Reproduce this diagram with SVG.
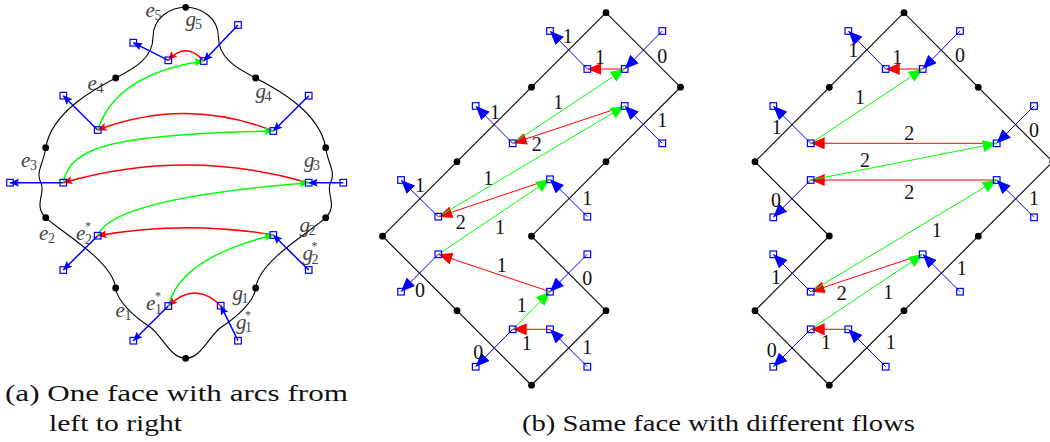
<svg xmlns="http://www.w3.org/2000/svg" xmlns:xlink="http://www.w3.org/1999/xlink" width="1050" height="442" viewBox="0 0 1050 442">
<style>
.face{fill:none;stroke:#000;stroke-width:1.1}
.dot{fill:#000}
.sq{fill:none;stroke:#00f;stroke-width:1.2}
.bl{fill:none;stroke:#00f;stroke-width:1.5}
.rd{fill:none;stroke:#f00;stroke-width:1.5}
.gr{fill:none;stroke:#0f0;stroke-width:1.5}
.bl2{fill:none;stroke:#00f;stroke-width:1}
.rd2{fill:none;stroke:#f00;stroke-width:1}
.gr2{fill:none;stroke:#0f0;stroke-width:1}
.lbl{font-family:"Liberation Serif","Times New Roman",serif;font-size:21px;fill:#444}
.it{font-style:italic}
.sub{font-size:14px}
.sup{font-size:12px}
.num{font-family:"Liberation Serif","Times New Roman",serif;font-size:20px;fill:#111;text-anchor:middle}
.cap{font-family:"Liberation Serif","Times New Roman",serif;font-size:24px;fill:#111}
</style>
<defs>
<marker id="mb" markerUnits="userSpaceOnUse" markerWidth="10" markerHeight="8" refX="9" refY="4" orient="auto"><path d="M0,0 L9.5,4 L0,8 L1.8,4 z" fill="#00f"/></marker>
<marker id="mr" markerUnits="userSpaceOnUse" markerWidth="10" markerHeight="8" refX="9" refY="4" orient="auto"><path d="M0,0 L9.5,4 L0,8 L1.8,4 z" fill="#f00"/></marker>
<marker id="mg" markerUnits="userSpaceOnUse" markerWidth="10" markerHeight="8" refX="9" refY="4" orient="auto"><path d="M0,0 L9.5,4 L0,8 L1.8,4 z" fill="#0f0"/></marker>
<marker id="Mb" markerUnits="userSpaceOnUse" markerWidth="15" markerHeight="12" refX="14" refY="6" orient="auto"><path d="M0,0 L14,6 L0,12 z" fill="#00f"/></marker>
<marker id="Mr" markerUnits="userSpaceOnUse" markerWidth="15" markerHeight="12" refX="14" refY="6" orient="auto"><path d="M0,0 L14,6 L0,12 z" fill="#f00"/></marker>
<marker id="Mg" markerUnits="userSpaceOnUse" markerWidth="15" markerHeight="12" refX="14" refY="6" orient="auto"><path d="M0,0 L14,6 L0,12 z" fill="#0f0"/></marker>
<rect id="sq" x="-3.3" y="-3.3" width="6.6" height="6.6" class="sq"/>
<circle id="dt" r="3.4" class="dot"/>
<path id="half" class="face" d="M185.7,7.3 C170,7.3 153,18 153,37 C153,58 135,68 115.7,78 C100.3,86 52,110 45.7,147.7 C44,162.7 35,172 41,183 C46,193 33,205 45.7,217.7 C57.7,229.7 112,260 115.7,288 C117.2,302 136,318 150,327 C162,335 170,358.3 185.7,358.3"/>
</defs>

<!-- Panel (a) face boundary -->
<g id="faceA">
<use xlink:href="#half"/>
<use xlink:href="#half" transform="matrix(-1 0 0 1 371.4 0)"/>
</g>
<!-- Panel (b) face boundary -->
<g id="faceB"><path class="face" d="M606,12.7 L531.5,87.2 L457,161.7 L382.5,236.2 L457,310.7 L531.5,385.2 L606,310.7 L531.5,236.2 L606,161.7 L680.5,87.2 Z"/></g>
<!-- Panel (c) face boundary -->
<g id="faceC"><path class="face" d="M904,12.7 L829.3,87.3 L755,161.7 L829.3,236 L755,310.7 L829.3,385.2 L904,310.7 L978.3,236.2 L1052.8,161.7 L978.3,87.3 Z"/></g>

<g id="connectors">
<!-- panel a blue -->
<line class="bl" x1="168.3" y1="60.3" x2="133.3" y2="42.7" marker-end="url(#mb)"/>
<line class="bl" x1="238" y1="25" x2="203.7" y2="61" marker-end="url(#mb)"/>
<line class="bl" x1="97.7" y1="130" x2="63.3" y2="95.7" marker-end="url(#mb)"/>
<line class="bl" x1="308.7" y1="95.7" x2="273.3" y2="131" marker-end="url(#mb)"/>
<line class="bl" x1="63.3" y1="182.7" x2="10" y2="182.7" marker-end="url(#mb)"/>
<line class="bl" x1="343.3" y1="182.7" x2="308.7" y2="182.7" marker-end="url(#mb)"/>
<line class="bl" x1="97.7" y1="235.7" x2="63.3" y2="270" marker-end="url(#mb)"/>
<line class="bl" x1="308.7" y1="270" x2="273.3" y2="235" marker-end="url(#mb)"/>
<line class="bl" x1="168.3" y1="306" x2="133.3" y2="340.7" marker-end="url(#mb)"/>
<line class="bl" x1="238" y1="340.7" x2="220.7" y2="305.7" marker-end="url(#mb)"/>
<!-- panel a red -->
<path class="rd" d="M203.7,61 Q186,41 168.3,60.3" marker-end="url(#mr)"/>
<path class="rd" d="M273.3,131 Q185.5,96.5 97.7,130" marker-end="url(#mr)"/>
<path class="rd" d="M308.7,182.7 Q186,147.3 63.3,182.7" marker-end="url(#mr)"/>
<path class="rd" d="M273.3,235 Q185.5,220 97.7,235.7" marker-end="url(#mr)"/>
<path class="rd" d="M220.7,305.7 Q195,280 168.3,306" marker-end="url(#mr)"/>
<!-- panel a green -->
<path class="gr" d="M97.7,130 Q116,74 203.7,61" marker-end="url(#mg)"/>
<path class="gr" d="M63.3,182.7 C70,145 120,134 273.3,131" marker-end="url(#mg)"/>
<path class="gr" d="M97.7,235.7 C105,215 155,195 308.7,182.7" marker-end="url(#mg)"/>
<path class="gr" d="M168.3,306 Q180,258 273.3,235" marker-end="url(#mg)"/>

<!-- panel b blue -->
<line class="bl2" x1="587.3" y1="69" x2="550" y2="31" marker-end="url(#Mb)"/>
<line class="bl2" x1="662.3" y1="31" x2="624.7" y2="69" marker-end="url(#Mb)"/>
<line class="bl2" x1="512.7" y1="143.3" x2="475.7" y2="106" marker-end="url(#Mb)"/>
<line class="bl2" x1="662.3" y1="143.3" x2="624.7" y2="106" marker-end="url(#Mb)"/>
<line class="bl2" x1="438.3" y1="216.7" x2="401" y2="180" marker-end="url(#Mb)"/>
<line class="bl2" x1="587.3" y1="216.7" x2="550" y2="179.3" marker-end="url(#Mb)"/>
<line class="bl2" x1="438.3" y1="254.3" x2="401" y2="291.7" marker-end="url(#Mb)"/>
<line class="bl2" x1="587.3" y1="254.3" x2="550" y2="291.7" marker-end="url(#Mb)"/>
<line class="bl2" x1="587.3" y1="366.7" x2="550" y2="329.3" marker-end="url(#Mb)"/>
<line class="bl2" x1="512.7" y1="329.3" x2="475.7" y2="366.7" marker-end="url(#Mb)"/>
<!-- panel b red -->
<line class="rd2" x1="624.7" y1="69" x2="587.3" y2="69" marker-end="url(#Mr)"/>
<line class="rd2" x1="624.7" y1="106" x2="512.7" y2="143.3" marker-end="url(#Mr)"/>
<line class="rd2" x1="550" y1="179.3" x2="438.3" y2="216.7" marker-end="url(#Mr)"/>
<line class="rd2" x1="550" y1="291.7" x2="438.3" y2="254.3" marker-end="url(#Mr)"/>
<line class="rd2" x1="550" y1="329.3" x2="512.7" y2="329.3" marker-end="url(#Mr)"/>
<!-- panel b green -->
<line class="gr2" x1="512.7" y1="143.3" x2="624.7" y2="69" marker-end="url(#Mg)"/>
<line class="gr2" x1="438.3" y1="216.7" x2="624.7" y2="106" marker-end="url(#Mg)"/>
<line class="gr2" x1="438.3" y1="254.3" x2="550" y2="179.3" marker-end="url(#Mg)"/>
<line class="gr2" x1="512.7" y1="329.3" x2="550" y2="291.7" marker-end="url(#Mg)"/>

<!-- panel c blue -->
<line class="bl2" x1="885.7" y1="69" x2="848.3" y2="31" marker-end="url(#Mb)"/>
<line class="bl2" x1="960" y1="31" x2="922.7" y2="69" marker-end="url(#Mb)"/>
<line class="bl2" x1="810.7" y1="143.3" x2="773.3" y2="106" marker-end="url(#Mb)"/>
<line class="bl2" x1="1034" y1="106" x2="996.7" y2="143.3" marker-end="url(#Mb)"/>
<line class="bl2" x1="810.7" y1="180" x2="773.3" y2="217.3" marker-end="url(#Mb)"/>
<line class="bl2" x1="1034" y1="217.3" x2="996.7" y2="180" marker-end="url(#Mb)"/>
<line class="bl2" x1="810.7" y1="291.7" x2="773.3" y2="254.3" marker-end="url(#Mb)"/>
<line class="bl2" x1="960" y1="291.7" x2="922.7" y2="254.3" marker-end="url(#Mb)"/>
<line class="bl2" x1="885.7" y1="366.7" x2="848.3" y2="329.3" marker-end="url(#Mb)"/>
<line class="bl2" x1="810.7" y1="329.3" x2="773.3" y2="366.7" marker-end="url(#Mb)"/>
<!-- panel c red -->
<line class="rd2" x1="922.7" y1="69" x2="885.7" y2="69" marker-end="url(#Mr)"/>
<line class="rd2" x1="996.7" y1="143.3" x2="810.7" y2="143.3" marker-end="url(#Mr)"/>
<line class="rd2" x1="996.7" y1="180" x2="810.7" y2="180" marker-end="url(#Mr)"/>
<line class="rd2" x1="922.7" y1="254.3" x2="810.7" y2="291.7" marker-end="url(#Mr)"/>
<line class="rd2" x1="848.3" y1="329.3" x2="810.7" y2="329.3" marker-end="url(#Mr)"/>
<!-- panel c green -->
<line class="gr2" x1="810.7" y1="143.3" x2="922.7" y2="69" marker-end="url(#Mg)"/>
<line class="gr2" x1="810.7" y1="180" x2="996.7" y2="143.3" marker-end="url(#Mg)"/>
<line class="gr2" x1="810.7" y1="291.7" x2="996.7" y2="180" marker-end="url(#Mg)"/>
<line class="gr2" x1="810.7" y1="329.3" x2="922.7" y2="254.3" marker-end="url(#Mg)"/>
</g>

<!-- vertices -->
<g id="vertA">
<use xlink:href="#dt" x="185.7" y="7.3"/><use xlink:href="#dt" x="115.7" y="78"/><use xlink:href="#dt" x="255.7" y="78"/>
<use xlink:href="#dt" x="45.7" y="147.7"/><use xlink:href="#dt" x="325.7" y="147.7"/><use xlink:href="#dt" x="45.7" y="217.7"/>
<use xlink:href="#dt" x="325.7" y="217.7"/><use xlink:href="#dt" x="115.7" y="288"/><use xlink:href="#dt" x="255.7" y="288"/>
<use xlink:href="#dt" x="185.7" y="358.3"/>
</g>
<g id="vertB">
<use xlink:href="#dt" x="606" y="12.7"/><use xlink:href="#dt" x="531.5" y="87.2"/><use xlink:href="#dt" x="680.5" y="87.2"/>
<use xlink:href="#dt" x="457" y="161.7"/><use xlink:href="#dt" x="606" y="161.7"/><use xlink:href="#dt" x="382.5" y="236.2"/>
<use xlink:href="#dt" x="531.5" y="236.2"/><use xlink:href="#dt" x="457" y="310.7"/><use xlink:href="#dt" x="606" y="310.7"/>
<use xlink:href="#dt" x="531.5" y="385.2"/>
</g>
<g id="vertC">
<use xlink:href="#dt" x="904" y="12.7"/><use xlink:href="#dt" x="829.3" y="87.3"/><use xlink:href="#dt" x="978.3" y="87.3"/>
<use xlink:href="#dt" x="755" y="161.7"/><use xlink:href="#dt" x="1052.8" y="161.7"/><use xlink:href="#dt" x="829.3" y="236"/>
<use xlink:href="#dt" x="978.3" y="236.2"/><use xlink:href="#dt" x="755" y="310.7"/><use xlink:href="#dt" x="904" y="310.7"/>
<use xlink:href="#dt" x="829.3" y="385.2"/>
</g>

<!-- ports -->
<g id="portsA">
<use xlink:href="#sq" x="133.3" y="42.7"/><use xlink:href="#sq" x="168.3" y="60.3"/><use xlink:href="#sq" x="203.7" y="61"/><use xlink:href="#sq" x="238" y="25"/>
<use xlink:href="#sq" x="63.3" y="95.7"/><use xlink:href="#sq" x="97.7" y="130"/><use xlink:href="#sq" x="273.3" y="131"/><use xlink:href="#sq" x="308.7" y="95.7"/>
<use xlink:href="#sq" x="10" y="182.7"/><use xlink:href="#sq" x="63.3" y="182.7"/><use xlink:href="#sq" x="308.7" y="182.7"/><use xlink:href="#sq" x="343.3" y="182.7"/>
<use xlink:href="#sq" x="97.7" y="235.7"/><use xlink:href="#sq" x="63.3" y="270"/><use xlink:href="#sq" x="273.3" y="235"/><use xlink:href="#sq" x="308.7" y="270"/>
<use xlink:href="#sq" x="168.3" y="306"/><use xlink:href="#sq" x="133.3" y="340.7"/><use xlink:href="#sq" x="220.7" y="305.7"/><use xlink:href="#sq" x="238" y="340.7"/>
</g>
<g id="portsB">
<use xlink:href="#sq" x="550" y="31"/><use xlink:href="#sq" x="587.3" y="69"/><use xlink:href="#sq" x="624.7" y="69"/><use xlink:href="#sq" x="662.3" y="31"/>
<use xlink:href="#sq" x="475.7" y="106"/><use xlink:href="#sq" x="512.7" y="143.3"/><use xlink:href="#sq" x="624.7" y="106"/><use xlink:href="#sq" x="662.3" y="143.3"/>
<use xlink:href="#sq" x="401" y="180"/><use xlink:href="#sq" x="438.3" y="216.7"/><use xlink:href="#sq" x="550" y="179.3"/><use xlink:href="#sq" x="587.3" y="216.7"/>
<use xlink:href="#sq" x="401" y="291.7"/><use xlink:href="#sq" x="438.3" y="254.3"/><use xlink:href="#sq" x="550" y="291.7"/><use xlink:href="#sq" x="587.3" y="254.3"/>
<use xlink:href="#sq" x="475.7" y="366.7"/><use xlink:href="#sq" x="512.7" y="329.3"/><use xlink:href="#sq" x="550" y="329.3"/><use xlink:href="#sq" x="587.3" y="366.7"/>
</g>
<g id="portsC">
<use xlink:href="#sq" x="848.3" y="31"/><use xlink:href="#sq" x="885.7" y="69"/><use xlink:href="#sq" x="922.7" y="69"/><use xlink:href="#sq" x="960" y="31"/>
<use xlink:href="#sq" x="773.3" y="106"/><use xlink:href="#sq" x="810.7" y="143.3"/><use xlink:href="#sq" x="996.7" y="143.3"/><use xlink:href="#sq" x="1034" y="106"/>
<use xlink:href="#sq" x="773.3" y="217.3"/><use xlink:href="#sq" x="810.7" y="180"/><use xlink:href="#sq" x="996.7" y="180"/><use xlink:href="#sq" x="1034" y="217.3"/>
<use xlink:href="#sq" x="773.3" y="254.3"/><use xlink:href="#sq" x="810.7" y="291.7"/><use xlink:href="#sq" x="922.7" y="254.3"/><use xlink:href="#sq" x="960" y="291.7"/>
<use xlink:href="#sq" x="773.3" y="366.7"/><use xlink:href="#sq" x="810.7" y="329.3"/><use xlink:href="#sq" x="848.3" y="329.3"/><use xlink:href="#sq" x="885.7" y="366.7"/>
</g>

<!-- labels panel a -->
<g id="labelsA" class="lbl">
<text><tspan class="it" x="145.5" y="17">e</tspan><tspan class="sub" x="154.5" y="20">5</tspan></text>
<text><tspan class="it" x="185.5" y="25.5">g</tspan><tspan class="sub" x="195" y="28.5">5</tspan></text>
<text><tspan class="it" x="87.5" y="90">e</tspan><tspan class="sub" x="96.5" y="92.5">4</tspan></text>
<text><tspan class="it" x="255.5" y="98">g</tspan><tspan class="sub" x="264.5" y="101">4</tspan></text>
<text><tspan class="it" x="21" y="166.5">e</tspan><tspan class="sub" x="30" y="169.5">3</tspan></text>
<text><tspan class="it" x="304" y="167">g</tspan><tspan class="sub" x="313" y="170">3</tspan></text>
<text><tspan class="it" x="39" y="240">e</tspan><tspan class="sub" x="48" y="243">2</tspan></text>
<text><tspan class="it" x="76" y="240">e</tspan><tspan class="sub" x="85" y="243.5">2</tspan></text>
<text class="sup" x="85" y="230">*</text>
<text><tspan class="it" x="299.5" y="231.5">g</tspan><tspan class="sub" x="308.5" y="234.5">2</tspan></text>
<text><tspan class="it" x="302.5" y="260">g</tspan><tspan class="sub" x="311.5" y="263.5">2</tspan></text>
<text class="sup" x="311.5" y="250">*</text>
<text><tspan class="it" x="146" y="310">e</tspan><tspan class="sub" x="155" y="313.5">1</tspan></text>
<text class="sup" x="155" y="300">*</text>
<text><tspan class="it" x="115.5" y="316.5">e</tspan><tspan class="sub" x="124.5" y="319.5">1</tspan></text>
<text><tspan class="it" x="232.5" y="300">g</tspan><tspan class="sub" x="241.5" y="303">1</tspan></text>
<text><tspan class="it" x="236" y="328.5">g</tspan><tspan class="sub" x="245" y="332">1</tspan></text>
<text class="sup" x="245" y="318.5">*</text>
</g>

<!-- labels panel b -->
<g id="labelsB" class="num">
<text x="567.7" y="43">1</text><text x="662.3" y="63">0</text><text x="495" y="118.7">1</text><text x="662.3" y="127">1</text>
<text x="420" y="192">1</text><text x="587.3" y="205.3">1</text><text x="420" y="297">0</text><text x="587.3" y="285.3">0</text>
<text x="587.3" y="353.7">1</text><text x="478.3" y="358.7">0</text>
<text x="600" y="63.7">1</text><text x="536.7" y="151">2</text><text x="460.7" y="228.7">2</text><text x="501.7" y="272">1</text><text x="526.7" y="350.3">1</text>
<text x="558.3" y="108.7">1</text><text x="488.3" y="185.3">1</text><text x="500" y="234.3">1</text><text x="521.7" y="312">1</text>
</g>

<!-- labels panel c -->
<g id="labelsC" class="num">
<text x="853.3" y="57">1</text><text x="960" y="62">0</text><text x="776.7" y="133.7">1</text><text x="1034" y="137">0</text>
<text x="776" y="207">0</text><text x="1034" y="205.3">1</text><text x="776" y="283.7">1</text><text x="961.7" y="275.3">1</text>
<text x="890.7" y="348.7">1</text><text x="771.7" y="357">0</text>
<text x="897.3" y="63.7">1</text><text x="909.3" y="140.3">2</text><text x="909.3" y="198.7">2</text><text x="841.7" y="300.3">2</text><text x="826" y="348.7">1</text>
<text x="860" y="103.7">1</text><text x="865" y="167">2</text><text x="936.7" y="237">1</text><text x="888.3" y="298.7">1</text>
</g>

<!-- captions -->
<g id="captions" class="cap">
<text x="5" y="401" textLength="343" lengthAdjust="spacingAndGlyphs">(a) One face with arcs from</text>
<text x="49" y="431" textLength="133" lengthAdjust="spacingAndGlyphs">left to right</text>
<text x="522" y="431" textLength="393" lengthAdjust="spacingAndGlyphs">(b) Same face with different flows</text>
</g>
</svg>
